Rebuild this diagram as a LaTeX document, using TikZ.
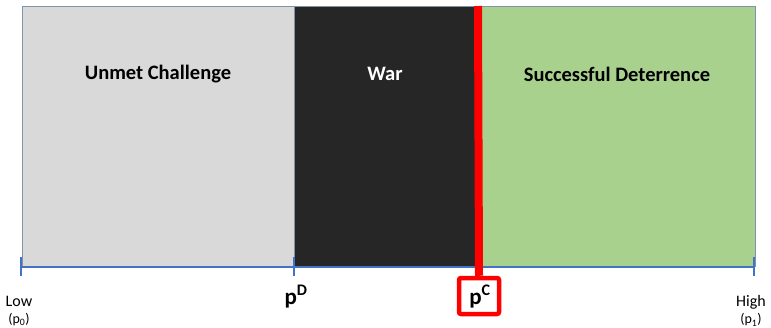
\documentclass[tikz,border=0pt]{standalone}
\usepackage{fontspec}
\setmainfont{Carlito}
\begin{document}
\begin{tikzpicture}[x=1pt,y=-1pt,
  region/.style={draw=framecol,line width=0.8pt},
  zonelabel/.style={font=\bfseries\fontsize{20.5}{24}\selectfont},
  endlabel/.style={font=\fontsize{16}{18}\selectfont,align=center,inner sep=0pt},
  axis/.style={draw=axisblue,line width=2.6pt},
  tick/.style={draw=axisblue,line width=2pt},
  threshold/.style={font=\bfseries\fontsize{23}{26}\selectfont,inner sep=0pt}]
\definecolor{framecol}{HTML}{7F93AD}
\definecolor{axisblue}{HTML}{4472C4}
\definecolor{greyzone}{HTML}{D9D9D9}
\definecolor{warzone}{HTML}{262626}
\definecolor{greenzone}{HTML}{A9D18E}
\definecolor{cutred}{HTML}{FF0000}
\useasboundingbox (0,0) rectangle (771,327);
% three outcome regions
\fill[greyzone] (22,6) rectangle (294,266);
\fill[warzone] (294,6) rectangle (477,266);
\fill[greenzone] (477,6) rectangle (755,266);
\draw[region] (22,6) rectangle (755,266);
\draw[framecol,line width=0.6pt] (294,6) -- (294,266);
\node[zonelabel] (unmet) at (158,74) {Unmet Challenge};
\node[zonelabel,text=white] (war) at (385,74) {War};
\node[zonelabel] (deter) at (617,74) {Successful Deterrence};
% probability axis
\coordinate (a0) at (21,267);
\coordinate (a1) at (755,267);
\coordinate (pd) at (294,267);
\draw[axis] (a0) -- (a1);
\draw[tick] (21,257) -- (21,276);
\draw[tick] (294,257) -- (294,276);
\draw[tick] (754,257) -- (754,276);
\node[endlabel] (low) at (19,311) {Low\\[-1pt]{\fontsize{14}{16}\selectfont(p\textsubscript{0})}};
\node[endlabel] (high) at (751,311) {High\\[-1pt]{\fontsize{14}{16}\selectfont(p\textsubscript{1})}};
\node[threshold] (pdlab) at (296,297) {p\textsuperscript{D}};
% challenger threshold marker
\node[draw=cutred,line width=4.5pt,rounded corners=2pt,minimum width=40pt,minimum height=36pt,inner sep=0pt,fill=white] (pc) at (479,296) {};
\node[threshold] (pclab) at (480,297) {p\textsuperscript{C}};
\coordinate (ctop) at (478,6);
\draw[cutred,line width=8pt] (ctop) -- (pc.north);
\end{tikzpicture}
\end{document}
